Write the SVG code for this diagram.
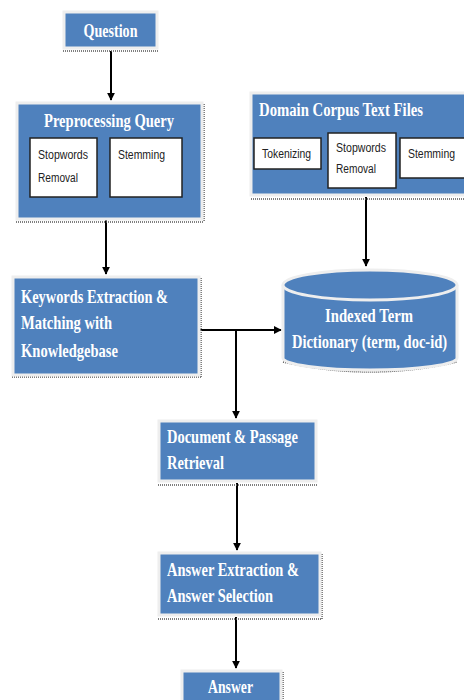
<svg xmlns="http://www.w3.org/2000/svg" width="464" height="700" viewBox="0 0 464 700">
<style>
.box{fill:#4f81bd;stroke:#eeeeee;stroke-width:3}
.inner{fill:#ffffff;stroke:#222;stroke-width:1.5}
.shadow{stroke:#555;stroke-width:1.5;stroke-dasharray:1 1;fill:none}
.t{font-family:"Liberation Serif","Times New Roman",serif;font-weight:bold;font-size:19px;fill:#ffffff}
.s{font-family:"Liberation Sans",Arial,sans-serif;font-size:12px;fill:#222}
.c{stroke:#000;stroke-width:2;fill:none;marker-end:url(#ah)}
</style>
<defs>
<marker id="ah" viewBox="0 0 10 10" refX="9" refY="5" markerWidth="4" markerHeight="4" orient="auto" markerUnits="strokeWidth">
<path d="M0,0 L10,5 L0,10 z" fill="#000"/>
</marker>
</defs>
<rect width="464" height="700" fill="#ffffff"/>
<g id="connectors">
<line class="c" x1="111" y1="51" x2="111" y2="100"/>
<line class="c" x1="106" y1="220" x2="106" y2="274"/>
<line class="c" x1="366" y1="197" x2="366" y2="266"/>
<line class="c" x1="193" y1="330" x2="281" y2="330"/>
<polyline class="c" points="236,330 236,418"/>
<line class="c" x1="237" y1="483" x2="237" y2="550"/>
<line class="c" x1="236" y1="617" x2="236" y2="668"/>
</g>
<g id="question">
<line class="shadow" x1="63" y1="51" x2="159" y2="51"/>
<rect class="box" x="64" y="12" width="93" height="36"/>
<text class="t" x="110.5" y="37" text-anchor="middle" textLength="54" lengthAdjust="spacingAndGlyphs">Question</text>
</g>
<g id="preprocessing">
<line class="shadow" x1="16" y1="222" x2="204" y2="222"/>
<line class="shadow" x1="204" y1="104" x2="204" y2="222"/>
<rect class="box" x="17" y="103" width="185" height="116"/>
<text class="t" x="44" y="127" textLength="130" lengthAdjust="spacingAndGlyphs">Preprocessing Query</text>
<rect class="inner" x="30" y="138" width="67" height="59"/>
<text class="s" x="38" y="159" textLength="50" lengthAdjust="spacingAndGlyphs">Stopwords</text>
<text class="s" x="38" y="182" textLength="40" lengthAdjust="spacingAndGlyphs">Removal</text>
<rect class="inner" x="110" y="138" width="72" height="59"/>
<text class="s" x="118" y="159" textLength="47" lengthAdjust="spacingAndGlyphs">Stemming</text>
</g>
<g id="domain">
<line class="shadow" x1="251" y1="199" x2="464" y2="199"/>
<rect class="box" x="251" y="93" width="220" height="102"/>
<text class="t" transform="translate(259,116) scale(0.8,1)" x="0" y="0" textLength="205" lengthAdjust="spacingAndGlyphs">Domain Corpus Text Files</text>
<rect class="inner" x="254" y="138" width="67" height="31"/>
<text class="s" x="262" y="158" textLength="49" lengthAdjust="spacingAndGlyphs">Tokenizing</text>
<rect class="inner" x="328" y="133" width="68" height="55"/>
<text class="s" x="336" y="152" textLength="50" lengthAdjust="spacingAndGlyphs">Stopwords</text>
<text class="s" x="336" y="173" textLength="40" lengthAdjust="spacingAndGlyphs">Removal</text>
<rect class="inner" x="400" y="138" width="70" height="40"/>
<text class="s" x="408" y="158" textLength="47" lengthAdjust="spacingAndGlyphs">Stemming</text>
</g>
<g id="keywords">
<line class="shadow" x1="12" y1="377" x2="201" y2="377"/>
<line class="shadow" x1="201" y1="278" x2="201" y2="377"/>
<rect class="box" x="13" y="277" width="186" height="98"/>
<text class="t" x="21" y="303" textLength="147" lengthAdjust="spacingAndGlyphs">Keywords Extraction &amp;</text>
<text class="t" x="21" y="329" textLength="91" lengthAdjust="spacingAndGlyphs">Matching with</text>
<text class="t" x="21" y="357" textLength="97" lengthAdjust="spacingAndGlyphs">Knowledgebase</text>
</g>
<g id="index">
<path class="shadow" d="M283,362 Q370,382 457,362"/>
<path d="M283,285 L283,358 A87,12 0 0 0 457,358 L457,285" fill="#4f81bd" stroke="#eeeeee" stroke-width="3"/>
<ellipse cx="370" cy="285" rx="87" ry="15" fill="#4f81bd" stroke="#eeeeee" stroke-width="3"/>
<text class="t" x="369" y="322" text-anchor="middle" textLength="88" lengthAdjust="spacingAndGlyphs">Indexed Term</text>
<text class="t" transform="translate(369.5,348) scale(0.8,1)" x="0" y="0" text-anchor="middle" textLength="194" lengthAdjust="spacingAndGlyphs">Dictionary (term, doc-id)</text>
</g>
<g id="document">
<line class="shadow" x1="158" y1="485" x2="318" y2="485"/>
<rect class="box" x="159" y="421" width="157" height="60"/>
<text class="t" x="167" y="443" textLength="131" lengthAdjust="spacingAndGlyphs">Document &amp; Passage</text>
<text class="t" x="167" y="469" textLength="57" lengthAdjust="spacingAndGlyphs">Retrieval</text>
</g>
<g id="answer-extraction">
<line class="shadow" x1="158" y1="619" x2="322" y2="619"/>
<line class="shadow" x1="322" y1="554" x2="322" y2="619"/>
<rect class="box" x="159" y="553" width="161" height="62"/>
<text class="t" x="167" y="576" textLength="132" lengthAdjust="spacingAndGlyphs">Answer Extraction &amp;</text>
<text class="t" x="167" y="602" textLength="106" lengthAdjust="spacingAndGlyphs">Answer Selection</text>
</g>
<g id="answer">
<line class="shadow" x1="283" y1="672" x2="283" y2="700"/>
<rect class="box" x="182" y="671" width="99" height="40"/>
<text class="t" x="230.5" y="693" text-anchor="middle" textLength="45" lengthAdjust="spacingAndGlyphs">Answer</text>
</g>
</svg>
